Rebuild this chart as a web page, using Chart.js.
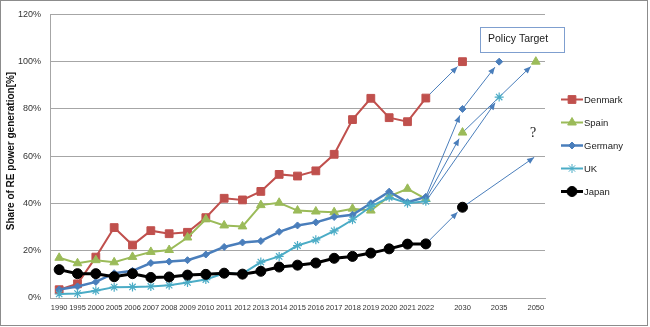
<!DOCTYPE html>
<html>
<head>
<meta charset="utf-8">
<script src="https://cdn.jsdelivr.net/npm/chart.js@4/dist/chart.umd.min.js"></script>
<style>
  html, body { margin: 0; padding: 0; background: #fff; }
  #wrap { width: 650px; height: 327px; position: relative; }
</style>
</head>
<body>
<div id="wrap"><canvas id="reChart" width="650" height="327"></canvas></div>
<script>
// categories ('' = empty slot between years)
const categories = ['1990', '1995', '2000', '2005', '2006', '2007', '2008', '2009', '2010', '2011',
    '2012', '2013', '2014', '2015', '2016', '2017', '2018', '2019', '2020', '2021', '2022',
    '', '2030', '', '2035', '', '2050'];

const denmark = [3.5, 6.0, 17.3, 29.8, 22.4, 28.5, 27.2, 27.8, 34.0, 42.2, 41.5, 45.1, 52.3, 51.6, 53.8,
    60.8, 75.5, 84.5, 76.3, 74.6, 84.6, null, 100, null, null, null, null];
const spain = [17.0, 14.7, 16.0, 15.1, 17.4, 19.5, 20.3, 25.6, 33.3, 30.7, 30.3, 39.3, 40.3, 37.0, 36.6,
    36.3, 37.8, 37.0, 43.0, 46.2, 41.9, null, 70, null, null, null, 100];
const germany = [3.6, 4.9, 6.8, 10.5, 11.5, 14.8, 15.4, 16.0, 18.4, 21.6, 23.5, 24.1, 28.0, 30.7, 32.0,
    34.3, 35.2, 40.1, 45.0, 40.5, 42.8, null, 80, null, 100, null, null];
const uk = [1.7, 1.9, 3.1, 4.6, 4.7, 4.9, 5.4, 6.6, 7.8, 10.5, 10.3, 15.2, 17.6, 22.2, 24.6,
    28.4, 33.1, 38.7, 42.6, 40.1, 40.9, null, null, null, 85, null, null];
const japan = [12.0, 10.3, 10.3, 9.0, 10.3, 8.7, 8.9, 9.7, 10.0, 10.5, 10.1, 11.3, 13.1, 13.9, 14.8,
    16.8, 17.6, 19.0, 20.8, 22.8, 22.9, null, 38.4, null, null, null, null];

const yTicks = [0, 20, 40, 60, 80, 100, 120];

// policy target arrows: [from year, from %, to year, to %]
const arrows = [
    ['2022', 84.6, '2030', 100],
    ['2022', 42.8, '2030', 80],
    ['2030', 80, '2035', 100],
    ['2022', 41.9, '2030', 70],
    ['2030', 70, '2050', 100],
    ['2022', 40.9, '2035', 85],
    ['2022', 22.9, '2030', 38.4],
    ['2030', 38.4, '2050', 60]
];

const series = [
    { label: 'Denmark', data: denmark, color: '#c0504d', style: 'rect', radius: 5.5, width: 2, order: 5 },
    { label: 'Spain', data: spain, color: '#9bbb59', style: 'triangle', radius: 5, width: 2, order: 4 },
    { label: 'Germany', data: germany, color: '#4a7ebb', style: 'rectRot', radius: 3.5, width: 2.5, order: 3 },
    { label: 'UK', data: uk, color: '#4bacc6', style: 'star', radius: 4.5, width: 2, order: 2 },
    { label: 'Japan', data: japan, color: '#000000', style: 'circle', radius: 5, width: 3, order: 1 }
];

const arrowPlugin = {
    id: 'arrows',
    beforeDatasetsDraw(chart) {
        const ctx = chart.ctx;
        const xs = chart.scales.x, ys = chart.scales.y;
        ctx.save();
        ctx.strokeStyle = '#4a7ebb';
        ctx.fillStyle = '#4a7ebb';
        ctx.lineWidth = 1;
        arrows.forEach(a => {
            const x1 = xs.getPixelForValue(categories.indexOf(a[0]));
            const y1 = ys.getPixelForValue(a[1]);
            const x2 = xs.getPixelForValue(categories.indexOf(a[2]));
            const y2 = ys.getPixelForValue(a[3]);
            const ang = Math.atan2(y2 - y1, x2 - x1);
            const gap = a[2] === '2050' && a[3] < 100 ? 2 : 7;
            const tx = x2 - Math.cos(ang) * gap, ty = y2 - Math.sin(ang) * gap;
            ctx.beginPath();
            ctx.moveTo(x1, y1);
            ctx.lineTo(tx, ty);
            ctx.stroke();
            const len = 7, half = 3;
            ctx.beginPath();
            ctx.moveTo(tx, ty);
            ctx.lineTo(tx - Math.cos(ang) * len - Math.sin(ang) * half, ty - Math.sin(ang) * len + Math.cos(ang) * half);
            ctx.lineTo(tx - Math.cos(ang) * len + Math.sin(ang) * half, ty - Math.sin(ang) * len - Math.cos(ang) * half);
            ctx.closePath();
            ctx.fill();
        });
        ctx.restore();
    }
};

const extrasPlugin = {
    id: 'extras',
    afterDraw(chart) {
        const ctx = chart.ctx;
        ctx.save();
        // outer frame
        ctx.strokeStyle = '#8c8c8c';
        ctx.lineWidth = 1;
        ctx.strokeRect(0.5, 0.5, 647, 325);

        // policy target box
        ctx.strokeStyle = '#7f9fcf';
        ctx.strokeRect(480.5, 27.5, 84, 25);
        ctx.fillStyle = '#1a1a1a';
        ctx.font = '10.5px "Liberation Sans", Arial, sans-serif';
        ctx.textBaseline = 'middle';
        ctx.textAlign = 'left';
        ctx.fillText('Policy Target', 488, 39.5);

        // question mark
        ctx.font = '14px "Liberation Serif", serif';
        ctx.textAlign = 'center';
        ctx.fillText('?', 533, 133);

        // y axis title
        ctx.save();
        ctx.translate(11, 151);
        ctx.rotate(-Math.PI / 2);
        ctx.fillStyle = '#111';
        ctx.font = 'bold 10px "Liberation Sans", Arial, sans-serif';
        ctx.fillText('Share of RE power generation[%]', 0, 0);
        ctx.restore();

        // legend
        ctx.textAlign = 'left';
        ctx.font = '9.5px "Liberation Sans", Arial, sans-serif';
        series.forEach((s, i) => {
            const y = 99.5 + i * 23;
            ctx.strokeStyle = s.color;
            ctx.fillStyle = s.color;
            ctx.lineWidth = s.width;
            ctx.beginPath();
            ctx.moveTo(561, y);
            ctx.lineTo(583, y);
            ctx.stroke();
            ctx.lineWidth = 1;
            Chart.helpers.drawPoint(ctx, { pointStyle: s.style, radius: s.radius, rotation: 0, borderWidth: 1 }, 572, y);
            ctx.fillStyle = '#222';
            ctx.fillText(s.label, 584, y + 0.5);
        });
        ctx.restore();
    }
};

new Chart(document.getElementById('reChart'), {
    type: 'line',
    data: {
        labels: categories,
        datasets: series.map(s => ({
            label: s.label,
            data: s.data,
            borderColor: s.color,
            backgroundColor: s.color,
            borderWidth: s.width,
            pointStyle: s.style,
            pointRadius: s.radius,
            pointBorderWidth: s.style === 'star' ? 1.2 : 1,
            pointBorderColor: s.color,
            pointBackgroundColor: s.color,
            spanGaps: false,
            tension: 0,
            order: s.order
        }))
    },
    options: {
        responsive: false,
        animation: false,
        events: [],
        layout: { padding: { top: 13, right: 105, bottom: 0, left: 0 } },
        plugins: {
            legend: { display: false },
            tooltip: { enabled: false }
        },
        scales: {
            x: {
                type: 'category',
                offset: true,
                grid: { display: false, drawTicks: false },
                border: { display: true, color: '#a6a6a6' },
                ticks: {
                    autoSkip: false,
                    maxRotation: 0,
                    padding: 5,
                    color: '#333',
                    font: { family: '"Liberation Sans", Arial, sans-serif', size: 7.5 }
                },
                afterFit(scale) { scale.height = 29; }
            },
            y: {
                min: 0,
                max: 120,
                afterBuildTicks(scale) { scale.ticks = yTicks.map(v => ({ value: v })); },
                grid: { color: '#a6a6a6', lineWidth: 1, drawTicks: false },
                border: { display: true, color: '#a6a6a6' },
                ticks: {
                    padding: 9,
                    color: '#333',
                    font: { family: '"Liberation Sans", Arial, sans-serif', size: 9 },
                    callback: v => v + '%'
                },
                afterFit(scale) { scale.width = 50; }
            }
        }
    },
    plugins: [arrowPlugin, extrasPlugin]
});
</script>
</body>
</html>
